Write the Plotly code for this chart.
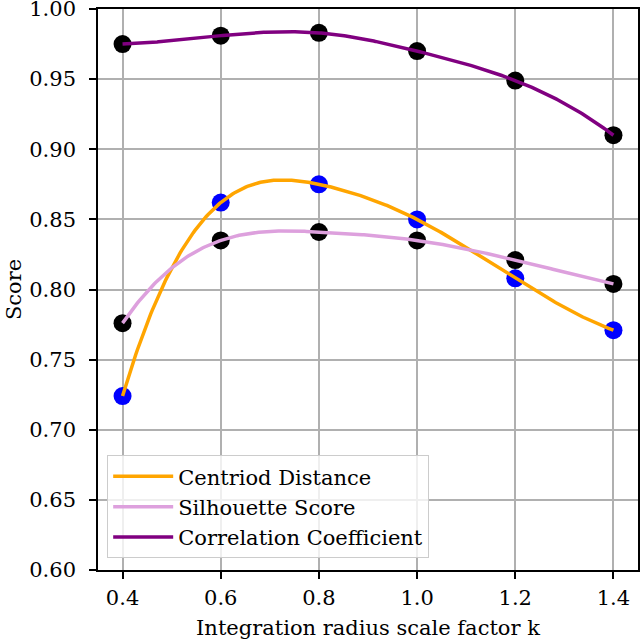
import numpy as np
import plotly.graph_objects as go

k_values = [0.4, 0.6, 0.8, 1.0, 1.2, 1.4]
centroid_distance = [0.724, 0.862, 0.875, 0.850, 0.808, 0.771]
silhouette_score = [0.776, 0.835, 0.841, 0.835, 0.821, 0.804]
correlation_coef = [0.975, 0.981, 0.983, 0.970, 0.949, 0.910]
y_ticks = [0.60, 0.65, 0.70, 0.75, 0.80, 0.85, 0.90, 0.95, 1.00]
x_ticks = [0.4, 0.6, 0.8, 1.0, 1.2, 1.4]


def not_a_knot_spline(x, y, n=300):
    x = np.asarray(x, float)
    y = np.asarray(y, float)
    m = len(x)
    h = np.diff(x)
    A = np.zeros((m, m))
    b = np.zeros(m)
    A[0, 0] = 1 / h[0]
    A[0, 1] = -1 / h[0] - 1 / h[1]
    A[0, 2] = 1 / h[1]
    A[-1, -3] = 1 / h[-2]
    A[-1, -2] = -1 / h[-2] - 1 / h[-1]
    A[-1, -1] = 1 / h[-1]
    for i in range(1, m - 1):
        A[i, i - 1] = h[i - 1]
        A[i, i] = 2 * (h[i - 1] + h[i])
        A[i, i + 1] = h[i]
        b[i] = 6 * ((y[i + 1] - y[i]) / h[i] - (y[i] - y[i - 1]) / h[i - 1])
    M = np.linalg.solve(A, b)
    xs = np.linspace(x[0], x[-1], n)
    ys = np.empty_like(xs)
    for j, xv in enumerate(xs):
        i = min(np.searchsorted(x, xv, side="right") - 1, m - 2)
        i = max(i, 0)
        hi = h[i]
        a = x[i + 1] - xv
        c = xv - x[i]
        ys[j] = (M[i] * a ** 3 / (6 * hi) + M[i + 1] * c ** 3 / (6 * hi)
                 + (y[i] / hi - M[i] * hi / 6) * a
                 + (y[i + 1] / hi - M[i + 1] * hi / 6) * c)
    return xs, ys


FONT = "DejaVu Serif"
FS = 21
fig = go.Figure()

fig.add_trace(go.Scatter(x=k_values, y=centroid_distance, mode="markers",
                         marker=dict(color="blue", size=18), showlegend=False,
                         hoverinfo="skip"))
fig.add_trace(go.Scatter(x=k_values, y=silhouette_score, mode="markers",
                         marker=dict(color="black", size=18), showlegend=False,
                         hoverinfo="skip"))
fig.add_trace(go.Scatter(x=k_values, y=correlation_coef, mode="markers",
                         marker=dict(color="black", size=18), showlegend=False,
                         hoverinfo="skip"))

series = [
    ("Centriod Distance", centroid_distance, "orange"),
    ("Silhouette Score", silhouette_score, "plum"),
    ("Correlation Coefficient", correlation_coef, "purple"),
]
for name, vals, col in series:
    xs, ys = not_a_knot_spline(k_values, vals)
    fig.add_trace(go.Scatter(x=xs, y=ys, mode="lines", name=name,
                             line=dict(color=col, width=3.5)))

axis_common = dict(
    showgrid=True, gridcolor="#b0b0b0", gridwidth=1.6,
    showline=True, linecolor="black", linewidth=1.6, mirror=True,
    ticks="outside", ticklen=7, tickwidth=1.6, tickcolor="black",
    zeroline=False, tickfont=dict(family=FONT, size=FS, color="black"),
    ticklabeloverflow="allow", automargin=False,
)

fig.update_layout(
    width=640, height=643,
    margin=dict(l=98, r=2, t=9, b=73),
    paper_bgcolor="white", plot_bgcolor="white",
    font=dict(family=FONT, size=FS, color="black"),
    xaxis=dict(range=[0.35, 1.45], tickvals=x_ticks,
               ticktext=[f"{v:.1f}" for v in x_ticks],
               ticklabelstandoff=1,
               title=dict(text="Integration radius scale factor k",
                          font=dict(family=FONT, size=FS), standoff=11),
               **axis_common),
    yaxis=dict(range=[0.60, 1.00], tickvals=y_ticks,
               ticktext=[f"{v:.2f}" for v in y_ticks],
               ticklabelstandoff=9,
               title=dict(text="Score",
                          font=dict(family=FONT, size=FS),
                          standoff=2),
               **axis_common),
    legend=dict(x=0.017, y=0.021, xanchor="left", yanchor="bottom",
                bgcolor="rgba(255,255,255,0.8)", bordercolor="#cccccc",
                borderwidth=1, font=dict(family=FONT, size=FS, color="black"),
                tracegroupgap=0, itemwidth=60),
)

fig.write_html("out.html")
